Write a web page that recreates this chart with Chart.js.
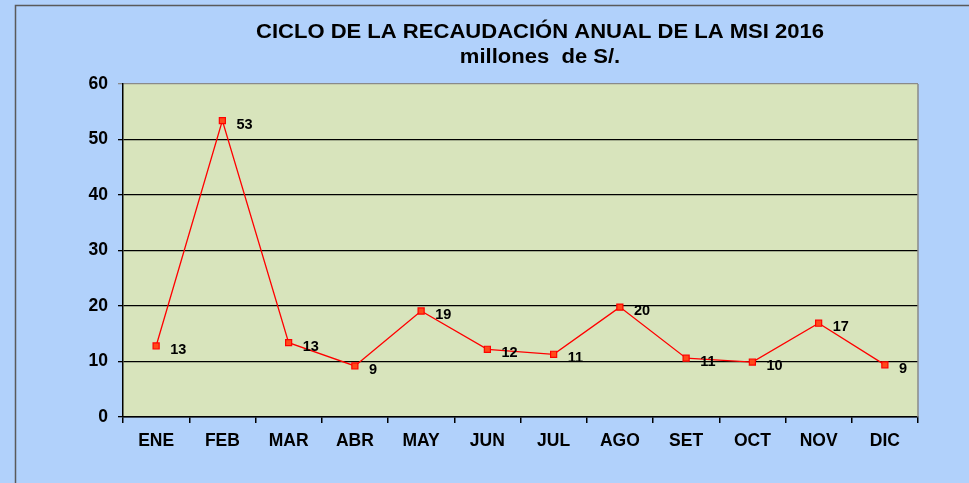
<!DOCTYPE html>
<html>
<head>
<meta charset="utf-8">
<script src="https://cdn.jsdelivr.net/npm/chart.js@4"></script>
<style>
  body { margin: 0; background: #b1d1fb; }
  canvas { display: block; }
</style>
</head>
<body>
<canvas id="myChart" width="969" height="483"></canvas>
<script>
var months = ["ENE", "FEB", "MAR", "ABR", "MAY", "JUN", "JUL", "AGO", "SET", "OCT", "NOV", "DIC"];
var recaudacion = [12.8, 53.4, 13.4, 9.2, 19.1, 12.2, 11.3, 19.8, 10.6, 9.9, 16.9, 9.4];
var titleLines = ["CICLO DE LA RECAUDACIÓN ANUAL DE LA MSI 2016", "millones  de S/."];
var yMin = 0, yMax = 60, yStep = 10;

var FONT = "'Liberation Sans', Arial, sans-serif";

// background, plot area fill and frame lines
var framePlugin = {
  id: 'frame',
  beforeDraw(chart) {
    var ctx = chart.ctx;
    var area = chart.chartArea;
    ctx.save();
    ctx.fillStyle = '#b1d1fb';
    ctx.fillRect(0, 0, chart.width, chart.height);
    ctx.strokeStyle = '#5a5a5a';
    ctx.lineWidth = 1.5;
    ctx.beginPath();
    ctx.moveTo(15.5, chart.height + 2);
    ctx.lineTo(15.5, 5.5);
    ctx.lineTo(chart.width + 2, 5.5);
    ctx.stroke();
    ctx.fillStyle = '#d8e4bc';
    ctx.fillRect(area.left, area.top, area.right - area.left, area.bottom - area.top);
    ctx.restore();
  },
  afterDraw(chart) {
    var ctx = chart.ctx;
    var area = chart.chartArea;
    ctx.save();
    ctx.strokeStyle = '#8a8a8a';
    ctx.lineWidth = 1.5;
    ctx.beginPath();
    ctx.moveTo(area.right, area.top);
    ctx.lineTo(area.right, area.bottom);
    ctx.stroke();
    ctx.restore();

    // title, slightly stretched like the original
    ctx.save();
    ctx.fillStyle = '#000';
    ctx.textAlign = 'center';
    ctx.textBaseline = 'middle';
    ctx.font = 'bold 19.5px ' + FONT;
    ctx.translate(540, 0);
    ctx.scale(1.13, 1);
    ctx.fillText(titleLines[0], 0, 33);
    ctx.fillText(titleLines[1], 0, 58);
    ctx.restore();
  }
};

var valueLabels = {
  id: 'valueLabels',
  afterDatasetsDraw(chart) {
    var ctx = chart.ctx;
    var meta = chart.getDatasetMeta(0);
    ctx.save();
    ctx.fillStyle = '#000';
    ctx.font = 'bold 14.5px ' + FONT;
    ctx.textAlign = 'left';
    ctx.textBaseline = 'middle';
    meta.data.forEach(function (pt, i) {
      ctx.fillText(String(Math.round(recaudacion[i])), pt.x + 14, pt.y + 4);
    });
    ctx.restore();
  }
};

new Chart("myChart", {
  type: "line",
  data: {
    labels: months,
    datasets: [{
      data: recaudacion,
      borderColor: '#ff0000',
      borderWidth: 1.3,
      pointStyle: 'rect',
      pointRadius: 4.3,
      pointBackgroundColor: '#ff4a1a',
      pointBorderColor: '#ff0000',
      pointBorderWidth: 1.2,
      tension: 0
    }]
  },
  options: {
    responsive: false,
    animation: false,
    layout: {
      padding: { left: 0, right: 51, top: 84, bottom: 0 }
    },
    plugins: {
      legend: { display: false },
      title: { display: false },
      tooltip: { enabled: false }
    },
    scales: {
      x: {
        offset: true,
        grid: {
          offset: true,
          drawOnChartArea: false,
          color: '#000',
          tickLength: 6,
          lineWidth: 1.5
        },
        border: { color: '#000', width: 1.5 },
        ticks: {
          color: '#000',
          padding: 8,
          maxRotation: 0,
          font: { family: FONT, size: 17.5, weight: 'bold' }
        },
        afterFit(scale) { scale.height = 66; }
      },
      y: {
        min: yMin,
        max: yMax,
        grid: {
          color: function (c) { return c.tick && c.tick.value === yMax ? '#8a8a8a' : '#000'; },
          lineWidth: 1.3,
          tickLength: 5
        },
        border: { color: '#000', width: 1.5 },
        ticks: {
          stepSize: yStep,
          color: '#000',
          padding: 10,
          font: { family: FONT, size: 17.5, weight: 'bold' }
        },
        afterFit(scale) { scale.width = 123; }
      }
    }
  },
  plugins: [framePlugin, valueLabels]
});
</script>
</body>
</html>
